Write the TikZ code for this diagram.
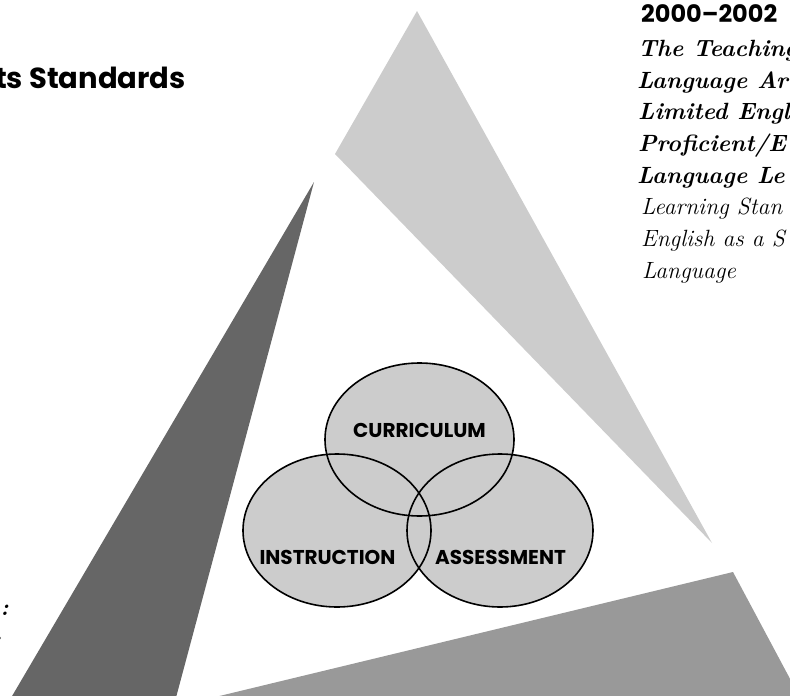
\documentclass[tikz,border=0pt]{standalone}
\usepackage{fontspec}
\newfontfamily\geo{Poppins}
\definecolor{paleGray}{HTML}{CCCCCC}
\definecolor{midGray}{HTML}{999999}
\definecolor{deepGray}{HTML}{666666}
\begin{document}
\begin{tikzpicture}[x=1pt,y=-1pt,
  setfill/.style={fill=paleGray},
  ring/.style={draw=black,line width=1.6pt},
  setlabel/.style={inner sep=0,font=\geo\bfseries\fontsize{20}{20}\selectfont},
  sanshead/.style={inner sep=0,font=\geo\bfseries\fontsize{29}{29}\selectfont},
  bookbi/.style={anchor=base west,inner sep=0,font=\bfseries\itshape\fontsize{23.5}{23.5}\selectfont},
  booki/.style={anchor=base west,inner sep=0,font=\itshape\fontsize{23.5}{23.5}\selectfont}]
\useasboundingbox (0,0) rectangle (790,696);
\clip (0,0) rectangle (790,696);

% three wedges of the frame
\fill[paleGray] (417,11) -- (712,543) -- (335,154) -- cycle;
\fill[deepGray] (314,182) -- (170,720) -- (-2,720) -- cycle;
\fill[midGray] (733,572) -- (812,720) -- (120,720) -- cycle;

% overlapping sets
\fill[setfill] (419.5,439.5) ellipse [x radius=94.5,y radius=76.5];
\fill[setfill] (337,530.5) ellipse [x radius=94,y radius=76.5];
\fill[setfill] (500,530.5) ellipse [x radius=93,y radius=76.5];
\draw[ring] (419.5,439.5) ellipse [x radius=94.5,y radius=76.5];
\draw[ring] (337,530.5) ellipse [x radius=94,y radius=76.5];
\draw[ring] (500,530.5) ellipse [x radius=93,y radius=76.5];

\node[setlabel] (curr) at (419.5,430.5) {CURRICULUM};
\node[setlabel] (instr) at (327.5,557.5) {INSTRUCTION};
\node[setlabel] (assess) at (500.5,557.5) {ASSESSMENT};

% headings
\node[sanshead,anchor=base east] (stdleft) at (186,88) {ts Standards};
\node[sanshead,anchor=base west,font=\geo\bfseries\fontsize{24}{24}\selectfont] (years) at (641,23) {2000–2002};

% title block on the right
\node[bookbi] (t1) at (638,56) {The Teaching};
\node[bookbi] (t2) at (637,88) {Language Ar};
\node[bookbi] (t3) at (638,119.5) {Limited Engl};
\node[bookbi] (t4) at (638,151) {Proficient/E};
\node[bookbi] (t5) at (637,183) {Language Le};
\node[booki] (t6) at (641,214.5) {Learning Stan};
\node[booki] (t7) at (641,246) {English as a S};
\node[booki] (t8) at (642,278) {Language};

% cut-off punctuation at the left edge
\node[bookbi,anchor=base east] (colon) at (9,615) {:};
\node[bookbi,anchor=base east] (stop) at (3,640) {.};
\end{tikzpicture}
\end{document}
